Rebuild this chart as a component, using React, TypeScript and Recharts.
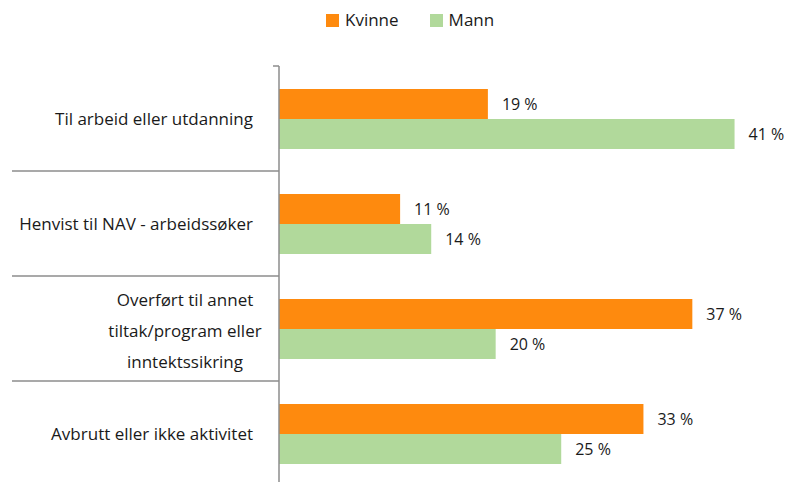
import { BarChart, Bar, XAxis, YAxis, Legend, LabelList } from 'recharts';

const categories = [
  ['Til arbeid eller utdanning'],
  ['Henvist til NAV - arbeidssøker'],
  ['Overført til annet', 'tiltak/program eller', 'inntektssikring'],
  ['Avbrutt eller ikke aktivitet'],
];
// shares in percent (labels show rounded values)
const kvinne = [18.8, 10.9, 37.2, 32.8];
const mann = [41.0, 13.7, 19.5, 25.4];
const seriesNames = ['Kvinne', 'Mann'];
const colors = ['#fe8a0e', '#b1d99b'];

const data = categories.map((lines, i) => ({
  name: lines.join('\n'),
  kvinne: kvinne[i],
  mann: mann[i],
}));

const FONT = '"Open Sans", Roboto, sans-serif';
const AXIS_X = 279;
const TEXT = '#1a1a1a';
const pct = (v: any) => `${Math.round(Number(v))} %`;

function CategoryTick(props: any) {
  const { y, payload, index } = props;
  const half = payload.offset ?? 52.5;
  const lines: string[] = String(payload.value).split('\n');
  const last = index === categories.length - 1;
  return (
    <g>
      {index === 0 && <line x1={AXIS_X - 6} x2={AXIS_X} y1={y - half} y2={y - half} stroke="#8c8c8c" strokeWidth={1.5} />}
      {!last && <line x1={12} x2={AXIS_X} y1={y + half} y2={y + half} stroke="#8c8c8c" strokeWidth={1.5} />}
      {lines.length === 1 ? (
        <text x={253} y={y} dy="0.36em" textAnchor="end" fontSize={17} fill={TEXT} fontFamily={FONT}>
          {lines[0]}
        </text>
      ) : (
        lines.map((l, k) => (
          <text
            key={k}
            x={185}
            y={y + 2 + (k - (lines.length - 1) / 2) * 31}
            dy="0.36em"
            textAnchor="middle"
            fontSize={17}
            fill={TEXT}
            fontFamily={FONT}
          >
            {l}
          </text>
        ))
      )}
    </g>
  );
}

function LegendContent() {
  return (
    <div style={{ display: 'flex', alignItems: 'center', fontFamily: FONT, fontSize: 17, lineHeight: '20px', height: 20, color: TEXT }}>
      {seriesNames.map((n, i) => (
        <div key={n} style={{ display: 'flex', alignItems: 'center', marginRight: i === 0 ? 31 : 0 }}>
          <span style={{ width: 13, height: 13, background: colors[i], display: 'inline-block', marginRight: 6 }} />
          <span>{n}</span>
        </div>
      ))}
    </div>
  );
}

export default function App() {
  return (
    <div style={{ position: 'absolute', left: 0, top: 0, width: 787, height: 482, overflow: 'hidden', background: '#fff' }}>
      <BarChart
        width={787}
        height={490}
        data={data}
        layout="vertical"
        margin={{ top: 46, right: 8, bottom: 4, left: 0 }}
        barGap={0}
        barSize={30}
      >
        <XAxis type="number" domain={[0, 45]} hide />
        <YAxis
          type="category"
          dataKey="name"
          width={AXIS_X}
          axisLine={{ stroke: '#8c8c8c', strokeWidth: 1.5 }}
          tickLine={false}
          tick={<CategoryTick />}
          interval={0}
        />
        <Legend
          verticalAlign="top"
          content={<LegendContent />}
          wrapperStyle={{ top: 10, left: 326, width: 'auto' }}
        />
        <Bar dataKey="kvinne" name="Kvinne" fill={colors[0]} isAnimationActive={false}>
          <LabelList
            dataKey="kvinne"
            position="right"
            offset={14}
            formatter={pct}
            style={{ fontSize: 16, fill: TEXT, fontFamily: FONT }}
          />
        </Bar>
        <Bar dataKey="mann" name="Mann" fill={colors[1]} isAnimationActive={false}>
          <LabelList
            dataKey="mann"
            position="right"
            offset={14}
            formatter={pct}
            style={{ fontSize: 16, fill: TEXT, fontFamily: FONT }}
          />
        </Bar>
      </BarChart>
    </div>
  );
}
